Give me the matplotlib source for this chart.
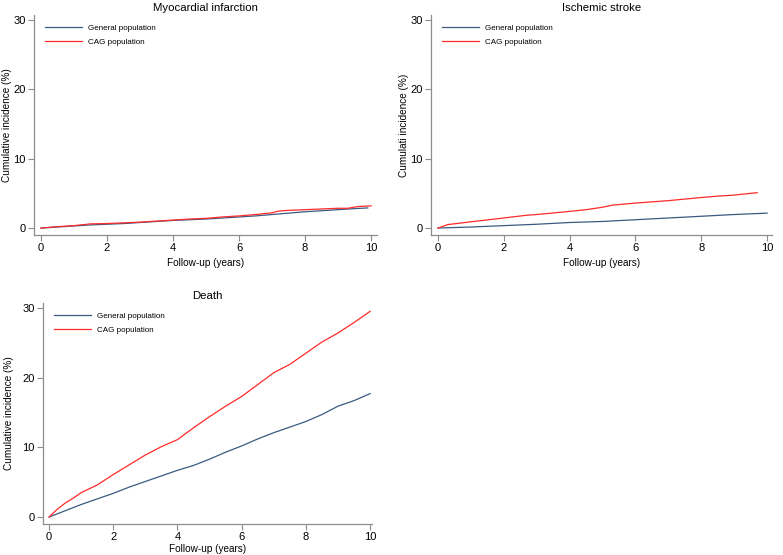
import matplotlib
matplotlib.use('Agg')
import matplotlib.pyplot as plt

plt.rcParams['font.family'] = ['Liberation Sans', 'DejaVu Sans']

# follow-up times (years) and cumulative incidence (%)
mi_years = [0, 0.5, 1, 1.5, 2, 2.5, 3, 3.5, 4, 4.5, 5, 5.5, 6, 6.5, 7, 7.5, 8, 8.5, 9, 9.5, 9.9]
mi_general = [0, 0.15, 0.3, 0.45, 0.55, 0.65, 0.8, 0.95, 1.1, 1.2, 1.3, 1.45, 1.6, 1.75, 1.95, 2.15, 2.35, 2.5, 2.65, 2.8, 2.9]
mi_cag_years = [0, 0.5, 1, 1.5, 2, 2.5, 3, 3.5, 4, 4.5, 5, 5.5, 6, 6.5, 7, 7.2, 7.5, 8, 8.5, 9, 9.3, 9.6, 10]
mi_cag = [0, 0.2, 0.35, 0.6, 0.65, 0.75, 0.85, 1.0, 1.15, 1.3, 1.4, 1.6, 1.75, 1.95, 2.2, 2.45, 2.55, 2.65, 2.75, 2.85, 2.85, 3.1, 3.2]

st_years = [0, 1, 2, 3, 4, 5, 6, 7, 8, 9, 10]
st_general = [0, 0.15, 0.35, 0.55, 0.8, 0.95, 1.2, 1.45, 1.7, 1.95, 2.15]
st_cag_years = [0, 0.3, 1, 2, 2.7, 3, 4, 4.5, 5, 5.3, 6, 7, 8, 8.5, 9, 9.7]
st_cag = [0, 0.5, 0.9, 1.45, 1.85, 1.95, 2.4, 2.65, 3.0, 3.3, 3.6, 3.95, 4.4, 4.6, 4.75, 5.1]

death_years = [0, 0.25, 0.5, 0.75, 1, 1.5, 2, 2.5, 3, 3.5, 4, 4.5, 5, 5.5, 6, 6.5, 7, 7.5, 8, 8.5, 9, 9.5, 10]
death_general = [0, 0.45, 0.9, 1.35, 1.8, 2.6, 3.4, 4.3, 5.1, 5.9, 6.7, 7.4, 8.3, 9.3, 10.2, 11.2, 12.1, 12.9, 13.7, 14.7, 15.9, 16.7, 17.7]
death_cag = [0, 1.1, 2.0, 2.7, 3.5, 4.6, 6.1, 7.5, 8.9, 10.1, 11.1, 12.8, 14.4, 15.9, 17.3, 19.0, 20.7, 21.9, 23.5, 25.1, 26.4, 27.9, 29.5]

blue = '#3a5a80'
red = '#ff2a2a'
axis_grey = '#8c8c8c'


def style_panel(ax, title, ylabel, xlim, xpad, ypad):
    ax.set_xlim(*xlim)
    ax.set_ylim(-1.0, 30.7)
    ax.set_xticks([0, 2, 4, 6, 8, 10])
    ax.set_yticks([0, 10, 20, 30])
    for side in ['top', 'right']:
        ax.spines[side].set_visible(False)
    for side in ['left', 'bottom']:
        ax.spines[side].set_color(axis_grey)
        ax.spines[side].set_linewidth(0.9)
    ax.tick_params(direction='out', length=4, width=0.8, color=axis_grey,
                   labelsize=8, pad=2)
    ax.set_title(title, fontsize=8.2, pad=3)
    ax.set_xlabel('Follow-up (years)', fontsize=7.2, labelpad=xpad)
    ax.set_ylabel(ylabel, fontsize=7.2, labelpad=ypad)
    ax.legend(loc='upper left', frameon=False, fontsize=5.8, handlelength=4.6,
              handletextpad=0.75, labelspacing=0.75, borderaxespad=0.5,
              bbox_to_anchor=(0.01, 0.99))


fig = plt.figure(figsize=(7.83, 5.55), dpi=100)

ax1 = fig.add_axes([34 / 783, 1 - 235 / 555, 343 / 783, 220 / 555])
ax1.plot(mi_years, mi_general, color=blue, lw=0.9, label='General population')
ax1.plot(mi_cag_years, mi_cag, color=red, lw=0.9, label='CAG population')
style_panel(ax1, 'Myocardial infarction', 'Cumulative incidence (%)', (-0.21, 10.18), 3, 1)

ax2 = fig.add_axes([431 / 783, 1 - 235 / 555, 341 / 783, 220 / 555])
ax2.plot(st_years, st_general, color=blue, lw=0.9, label='General population')
ax2.plot(st_cag_years, st_cag, color=red, lw=0.9, label='CAG population')
style_panel(ax2, 'Ischemic stroke', 'Cumulati incidence (%)', (-0.21, 10.15), 3, 1)

ax3 = fig.add_axes([43 / 783, 1 - 524 / 555, 329 / 783, 221 / 555])
ax3.plot(death_years, death_general, color=blue, lw=0.9, label='General population')
ax3.plot(death_years, death_cag, color=red, lw=0.9, label='CAG population')
style_panel(ax3, 'Death', 'Cumulative incidence (%)', (-0.19, 10.06), 1, 6)

fig.savefig('out.png', dpi=100)
